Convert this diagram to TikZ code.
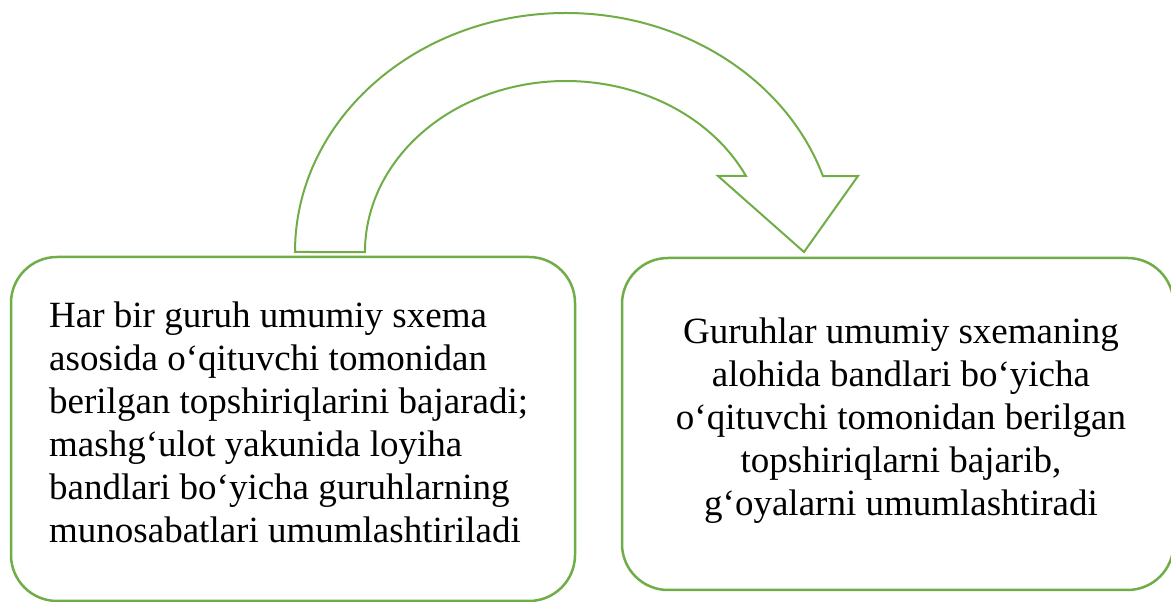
\documentclass[tikz,border=0pt]{standalone}
\usepackage{fontspec}
\setmainfont{Liberation Serif}
\definecolor{wgreen}{HTML}{70AD47}
\tikzset{
  box/.style={draw=wgreen, line width=2.5pt, rounded corners=46pt, inner sep=0pt},
  blockarrow/.style={draw=wgreen, line width=2pt, line join=miter, fill=white},
  txt/.style={inner sep=0pt, font=\fontsize{37}{43}\selectfont}
}
\begin{document}
\begin{tikzpicture}[x=1pt,y=1pt]
\useasboundingbox (0,0) rectangle (1171,602);
% boxes
\node[box, minimum width=564pt, minimum height=344pt] (left) at (293,173) {};
\node[box, minimum width=551.5pt, minimum height=332pt] (right) at (897.75,178) {};
% curved block arrow
\draw[blockarrow] (295,350) arc[start angle=180, end angle=18.5, x radius=271pt, y radius=239pt]
  -- (858,426) -- (804,350) -- (718,426) -- (746,426)
  arc[start angle=26.4, end angle=180, x radius=201pt, y radius=171pt] -- cycle;
% texts
\node[txt, anchor=north west, align=left] (lefttext) at (49,300.5)
  {Har bir guruh umumiy sxema\\asosida o‘qituvchi tomonidan\\berilgan topshiriqlarini bajaradi;\\mashg‘ulot yakunida loyiha\\bandlari bo‘yicha guruhlarning\\munosabatlari umumlashtiriladi};
\node[txt, anchor=north, align=center] (righttext) at (901,284.5)
  {Guruhlar umumiy sxemaning\\alohida bandlari bo‘yicha\\o‘qituvchi tomonidan berilgan\\topshiriqlarni bajarib,\\g‘oyalarni umumlashtiradi};
\end{tikzpicture}
\end{document}
